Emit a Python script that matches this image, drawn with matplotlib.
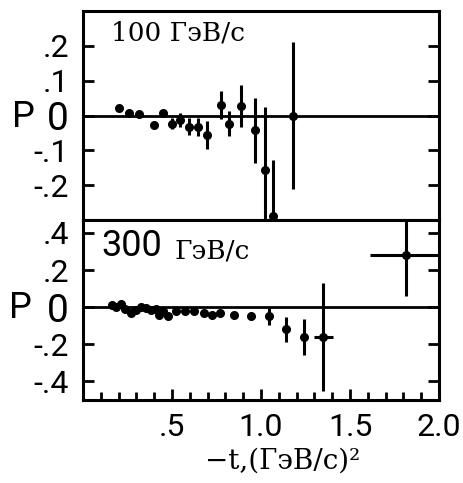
import matplotlib
matplotlib.use("Agg")
import matplotlib.pyplot as plt
import numpy as np

# 100 GeV/c data
t100 = [0.20, 0.257, 0.313, 0.40, 0.45, 0.498, 0.547, 0.596, 0.648, 0.699, 0.776,
        0.819, 0.888, 0.964, 1.02, 1.068, 1.18]
P100 = [0.021, 0.008, 0.005, -0.027, 0.006, -0.023, -0.012, -0.032, -0.033, -0.055,
        0.03, -0.023, 0.028, -0.043, -0.157, -0.288, 0.0]
e100 = [0, 0, 0, 0, 0, 0.015, 0.02, 0.025, 0.025, 0.04, 0.04, 0.035, 0.06, 0.093,
        0.18, 0.16, 0.21]

# 300 GeV/c data
t300 = [0.161, 0.186, 0.214, 0.238, 0.270, 0.298, 0.326, 0.354, 0.382, 0.410, 0.429,
        0.448, 0.476, 0.523, 0.575, 0.626, 0.678, 0.725, 0.772, 0.847, 0.946, 1.044,
        1.142, 1.241, 1.35, 1.815]
P300 = [0.01, 0.0, 0.018, -0.007, -0.03, -0.013, 0.0, -0.004, -0.013, -0.007, -0.04,
        -0.02, -0.05, -0.02, -0.02, -0.02, -0.03, -0.04, -0.03, -0.04, -0.05, -0.05,
        -0.12, -0.16, -0.16, 0.28]
ye300 = [0] * 21 + [0.045, 0.065, 0.095, 0.29, 0.22]
xe300 = [0] * 24 + [0.055, 0.2]

yt100 = [0.2, 0.1, 0.0, -0.1, -0.2]
yl100 = [".2", ".1", "0", "-.1", "-.2"]
yt300 = [0.4, 0.2, 0.0, -0.2, -0.4]
yl300 = [".4", ".2", "0", "-.2", "-.4"]
xt = [0.5, 1.0, 1.5, 2.0]
xl = [".5", "1.0", "1.5", "2.0"]

SANS = ["Roboto", "DejaVu Sans"]
SERIF = ["DejaVu Serif", "DejaVu Sans"]

fig = plt.figure(figsize=(4.63, 4.83), dpi=100)
L, R = 83 / 463, 439 / 463
ax1 = fig.add_axes([L, 1 - 220 / 483, R - L, (220 - 11) / 483])
ax2 = fig.add_axes([L, 1 - 400 / 483, R - L, (400 - 220) / 483])

for ax in (ax1, ax2):
    for s in ax.spines.values():
        s.set_linewidth(2.2)
    ax.axhline(0, color="black", lw=2.0, zorder=1)
    ax.set_xlim(0, 2.0)
    ax.tick_params(axis="both", direction="in", width=2, length=8, colors="black")

# top panel
ax1.errorbar(t100, P100, yerr=e100, fmt="o", color="black", ms=5.5, elinewidth=2.2,
             capsize=0, zorder=3)
ax1.set_ylim(-0.30, 0.30)
ax1.set_yticks(yt100)
ax1.set_yticklabels(yl100)
ax1.tick_params(axis="y", right=True, left=True, pad=10)
ax1.tick_params(axis="x", bottom=False, labelbottom=False)
ax1.text(0.079, 0.895, "100 ГэВ/с", transform=ax1.transAxes, family=SERIF,
         fontsize=19, va="center", ha="left")

# bottom panel
ax2.errorbar(t300, P300, yerr=ye300, xerr=xe300, fmt="o", color="black", ms=5.5,
             elinewidth=2.2, capsize=0, zorder=3)
ax2.set_ylim(-0.50, 0.47)
ax2.set_yticks(yt300)
ax2.set_yticklabels(yl300)
ax2.tick_params(axis="y", right=True, left=True, pad=10)
ax2.set_xticks(xt)
ax2.set_xticklabels(xl)
ax2.set_xticks(np.arange(0.1, 2.0, 0.1), minor=True)
ax2.tick_params(axis="x", which="minor", direction="in", width=2, length=6)
ax2.tick_params(axis="x", which="major", pad=9)
ax2.text(0.052, 0.855, "300", transform=ax2.transAxes, family=SANS,
         fontsize=26, va="center", ha="left")
ax2.text(0.258, 0.83, "ГэВ/с", transform=ax2.transAxes, family=SERIF,
         fontsize=19, va="center", ha="left")

for ax in (ax1, ax2):
    for lab in ax.get_yticklabels():
        lab.set_family(SANS)
        lab.set_fontsize(23)
        if lab.get_text() == "0":
            lab.set_fontsize(28)
for lab in ax2.get_xticklabels():
    lab.set_family(SANS)
    lab.set_fontsize(23)

# P labels
fig.text(23 / 463, 1 - 117 / 483, "P", family=SANS, fontsize=26, ha="center", va="center")
fig.text(20 / 463, 1 - 308 / 483, "P", family=SANS, fontsize=26, ha="center", va="center")

fig.text(283 / 463, 1 - 461 / 483, "−t,(ГэВ/с)²", family=SERIF, fontsize=20,
         ha="center", va="center")

fig.savefig("out.png", dpi=100)
